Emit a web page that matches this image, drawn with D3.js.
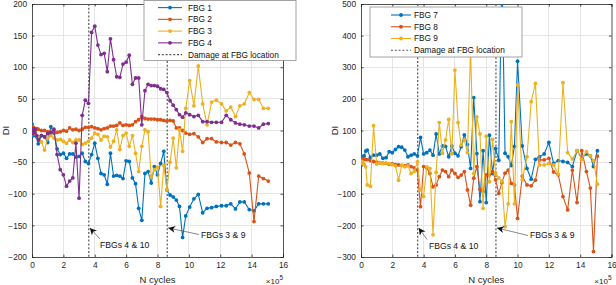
<!DOCTYPE html>
<html>
<head>
<meta charset="utf-8">
<script src="https://cdn.jsdelivr.net/npm/d3@7/dist/d3.min.js"></script>
<style>
  body { margin: 0; background: #fff; }
  svg { font-family: "Liberation Sans", Arial, sans-serif; }
</style>
</head>
<body>
<svg id="chart" width="616" height="285"></svg>
<script>
// N cycles (x 10^5), left panel sampling
const cyclesLeft = [0, 0.05, 0.1, 0.15, 0.2, 0.3,
  0.4, 0.6, 0.8, 1.0, 1.2, 1.4, 1.6, 1.8, 2.0, 2.2,
  2.4, 2.6, 2.8, 3.0, 3.2, 3.4, 3.6, 3.8, 4.0, 4.2,
  4.4, 4.6, 4.8, 5.0, 5.2, 5.4, 5.6, 5.8, 6.0, 6.2,
  6.4, 6.6, 6.8, 7.0, 7.2, 7.4, 7.6, 7.8, 8.0, 8.2,
  8.4, 8.6, 8.8, 9.0, 9.2, 9.4, 9.6, 9.8,
  10.05, 10.32, 10.6, 10.88, 11.16, 11.45, 11.75, 12.08, 12.38,
  12.67, 12.97, 13.25, 13.53, 13.85, 14.15, 14.45, 14.75, 15.06];

const fbg1 = [10, 2, -8, -3, -5, -10,
  -21, -8, -10, -19, 6, -4, -29, -38, -36, -44,
  -37, -37, -42, -41, -36, -49, -52, -38, -20, -44,
  -68, -70, -85, -36, -72, -71, -72, -76, -48, -49,
  -75, -84, -123, -142, -68, -65, -83, -57, -70, -52,
  -33, -94, -102, -105, -110, -120, -169, -135,
  -121, -108, -101, -130, -123, -122, -120, -119, -119,
  -116, -124, -113, -113, -125, -127, -116, -116, -116];

const fbg2 = [0, 3, 5, 2, 0, 3,
  2, 0, 0, -2, -3, -2, -3, -2, 0, -1,
  4, 1, 2, 0, 2, 5, 5, 6, 4, 3,
  1, 3, 4, 7, 7, 8, 12, 8, 9, 8,
  9, 14, 17, 22, 19, 18, 18, 18, 17, 17,
  16, 15, 16, 15, 4, 4, 0, -4,
  -6, -5, -10, -19, -13, -13, -18, -19, -19,
  -23, -19, -21, -37, -67, -144, -72, -76, -80];

const fbg3 = [0, -2, -5, 2, -3, -8,
  -10, -18, -31, -12, -8, -12, -15, -14, -17, -20,
  -15, -19, -15, -15, -22, -20, -17, -12, -4, -6,
  -15, -9, -10, -26, -17, 1, -30, -8, -4, -25,
  -8, -36, -65, -25, 1, -2, -73, -62, -58, -120,
  -55, -94, -50, -12, -59, 1, -33, 35,
  79, 39, 102, 42, 9, 45, 48, 42, 31,
  37, 22, 39, 42, 60, 49, 49, 35, 35];

const fbg4 = [0, -5, 3, -3, 2, -8,
  -15, -8, -10, -5, -3, 2, -38, -62, -70, -88,
  -80, -75, -20, -107, 24, 48, 43, 155, 165, 135,
  120, 122, 93, 145, 112, 85, 84, 105, 108, 119,
  73, 83, 83, 9, 63, 73, 71, 71, 70, 66,
  65, 60, 47, 40, 33, 25, 21, 28,
  25, 22, 24, 14, 14, 13, 13, 13, 24,
  17, 12, 10, 9, 7, 7, 4, 10, 11];

// right panel sampling
const cyclesRight = [0, 0.05, 0.1, 0.15, 0.2, 0.3,
  0.4, 0.6, 0.8, 1.0, 1.2, 1.4, 1.6, 1.8, 2.0, 2.2,
  2.4, 2.6, 2.8, 3.0, 3.2, 3.4, 3.6, 3.8, 4.0, 4.2,
  4.4, 4.6, 4.8, 5.0, 5.2, 5.4, 5.6, 5.8, 6.0, 6.2,
  6.4, 6.6, 6.8, 7.0, 7.2, 7.4, 7.6, 7.8, 8.0, 8.2,
  8.4, 8.6, 8.8, 9.0, 9.2, 9.4, 9.6, 9.8,
  10.0, 10.3, 10.6, 10.87, 11.14, 11.4, 11.7, 12.0, 12.3, 12.6,
  12.9, 13.2, 13.5, 13.8, 14.1, 14.4, 14.65, 14.85, 15.1];

const fbg7 = [-11, 8, 15, 18, 20, 35,
  38, 15, 22, 22, 26, 12, 14, 33, 30, 40,
  49, 47, 38, 17, 22, 26, 20, 78, 26, 30,
  38, 22, 89, 26, 51, 50, 17, 51, 28, 20,
  49, 86, 55, -20, 204, 27, -125, 36, -128, 85,
  -36, 43, 6, 620, 28, 17, -11, 50,
  319, 51, -20, -54, 9, 17, 26, 62, -4, 5,
  2, -1, -14, 36, 12, 26, 20, -14, 36];

const fbg8 = [0, 5, 10, 12, 10, 8,
  8, 5, 2, 0, -2, -3, -4, -7, -6, -8,
  -9, -10, -12, -9, -14, -18, -25, -141, -14, -18,
  -36, -78, -72, -46, -25, -30, -46, -25, -36, -48,
  -41, -30, -88, -136, -51, -14, -86, -93, -40, -41,
  -30, -56, -99, -65, -35, -25, -67, -72,
  -178, -44, -72, -75, -57, 7, 7, 12, -31, -40,
  -109, -151, -25, -128, 36, -30, -82, -283, 19];

const fbg9 = [-4, 2, 0, -5, -8, -15,
  -72, -76, 115, -6, -2, -5, -3, -5, -8, -12,
  -57, -10, -15, -12, -36, -30, 1, -88, -109, -15,
  -20, -230, -32, 125, 28, 70, 135, 26, 291, 125,
  54, 70, 30, 360, -36, 143, 89, -146, 82, -62,
  72, -36, -50, -60, -204, -132, 128, -132,
  244, -56, 17, 191, 249, -9, -9, -4, -9, -38,
  251, 30, 10, 36, 9, 33, 20, 5, -70];

const xTicks = [0, 2, 4, 6, 8, 10, 12, 14, 16];
const yTicksLeft = [-200, -150, -100, -50, 0, 50, 100, 150, 200];
const yTicksRight = [-300, -200, -100, 0, 100, 200, 300, 400, 500];
const damageCycles = [3.62, 8.62];
const damageLabels = ["FBGs 4 & 10", "FBGs 3 & 9"];

const colors = ["#0072BD", "#D95319", "#EDB120", "#7E2F8E"];
const gridColor = "#e6e6e6";
const axisColor = "#262626";

const svg = d3.select("#chart");

const defs = svg.append("defs");
defs.append("marker")
  .attr("id", "arrowhead")
  .attr("viewBox", "0 0 10 10")
  .attr("refX", 10).attr("refY", 5)
  .attr("markerWidth", 9).attr("markerHeight", 7)
  .attr("markerUnits", "userSpaceOnUse")
  .attr("orient", "auto")
  .append("path")
  .attr("d", "M0,0 L10,5 L0,10 L3,5 Z")
  .attr("fill", "#111");

const panels = [
  {
    id: "L", left: 32, right: 283, top: 4, bottom: 257,
    cycles: cyclesLeft, yDomain: [-200, 200], yTicks: yTicksLeft,
    series: [
      { name: "FBG 1", values: fbg1, color: colors[0] },
      { name: "FBG 2", values: fbg2, color: colors[1] },
      { name: "FBG 3", values: fbg3, color: colors[2] },
      { name: "FBG 4", values: fbg4, color: colors[3] }
    ],
    arrowY: -154,
    legend: { x: 144, y: 0.5, w: 152, h: 60, row0: 7.6, lineX0: 158, lineX1: 182, textX: 188 },
    labels: [
      { tail: [100, 239], text: [100, 248] },
      { tail: [199, 234.5], text: [201, 237.5] }
    ]
  },
  {
    id: "R", left: 361, right: 611.5, top: 4, bottom: 257,
    cycles: cyclesRight, yDomain: [-300, 500], yTicks: yTicksRight,
    series: [
      { name: "FBG 7", values: fbg7, color: colors[0] },
      { name: "FBG 8", values: fbg8, color: colors[1] },
      { name: "FBG 9", values: fbg9, color: colors[2] }
    ],
    arrowY: -208,
    legend: { x: 370, y: 7, w: 152, h: 50, row0: 15, lineX0: 391, lineX1: 411, textX: 414 },
    labels: [
      { tail: [427, 239.5], text: [429, 248.5] },
      { tail: [528, 235.5], text: [530, 237.5] }
    ]
  }
];

panels.forEach(p => {
  const x = d3.scaleLinear().domain([0, 16]).range([p.left, p.right]);
  const y = d3.scaleLinear().domain(p.yDomain).range([p.bottom, p.top]);
  const w = p.right - p.left, h = p.bottom - p.top;

  defs.append("clipPath").attr("id", "clip" + p.id)
    .append("rect").attr("x", p.left).attr("y", p.top).attr("width", w).attr("height", h);

  const g = svg.append("g");

  // grid
  g.append("g").selectAll("line").data(xTicks.slice(1, -1)).join("line")
    .attr("x1", d => x(d)).attr("x2", d => x(d))
    .attr("y1", p.top).attr("y2", p.bottom)
    .attr("stroke", gridColor).attr("stroke-width", 1).attr("shape-rendering", "crispEdges");
  g.append("g").selectAll("line").data(p.yTicks.slice(1, -1)).join("line")
    .attr("y1", d => y(d)).attr("y2", d => y(d))
    .attr("x1", p.left).attr("x2", p.right)
    .attr("stroke", gridColor).attr("stroke-width", 1).attr("shape-rendering", "crispEdges");

  // axes (inward ticks)
  const xAxis = g.append("g").attr("transform", `translate(0,${p.bottom})`)
    .call(d3.axisBottom(x).tickValues(xTicks).tickSize(-2.5).tickPadding(5.5));
  const xAxisTop = g.append("g").attr("transform", `translate(0,${p.top})`)
    .call(d3.axisTop(x).tickValues(xTicks).tickSize(-2.5).tickFormat(""));
  const yAxis = g.append("g").attr("transform", `translate(${p.left},0)`)
    .call(d3.axisLeft(y).tickValues(p.yTicks).tickSize(-2.5).tickPadding(5));
  const yAxisRight = g.append("g").attr("transform", `translate(${p.right},0)`)
    .call(d3.axisRight(y).tickValues(p.yTicks).tickSize(-2.5).tickFormat(""));
  [xAxis, xAxisTop, yAxis, yAxisRight].forEach(a => {
    a.select(".domain").attr("stroke", axisColor).attr("stroke-width", 0.8);
    a.selectAll(".tick line").attr("stroke", axisColor).attr("stroke-width", 0.8);
    a.selectAll("text").attr("fill", axisColor).attr("font-size", 8.3)
      .attr("font-family", "Liberation Sans, Arial, sans-serif");
  });

  // damage lines
  g.append("g").selectAll("line").data(damageCycles).join("line")
    .attr("x1", d => x(d)).attr("x2", d => x(d))
    .attr("y1", p.top).attr("y2", p.bottom)
    .attr("stroke", "#555").attr("stroke-width", 1.2).attr("stroke-dasharray", "2,1.8");

  // series
  const plot = g.append("g").attr("clip-path", `url(#clip${p.id})`);
  const line = d3.line().x(d => x(d[0])).y(d => y(d[1]));
  p.series.forEach(s => {
    const pts = p.cycles.map((c, i) => [c, s.values[i]]);
    plot.append("path").datum(pts)
      .attr("d", line).attr("fill", "none")
      .attr("stroke", s.color).attr("stroke-width", 1.1).attr("stroke-linejoin", "round");
    plot.append("g").selectAll("circle").data(pts).join("circle")
      .attr("cx", d => x(d[0])).attr("cy", d => y(d[1])).attr("r", 1.9)
      .attr("fill", s.color);
  });

  // annotations
  p.labels.forEach((lab, i) => {
    g.append("line")
      .attr("x1", lab.tail[0]).attr("y1", lab.tail[1])
      .attr("x2", x(damageCycles[i]) + 1).attr("y2", y(p.arrowY))
      .attr("stroke", "#555").attr("stroke-width", 0.7)
      .attr("marker-end", "url(#arrowhead)");
    g.append("text").attr("x", lab.text[0]).attr("y", lab.text[1])
      .attr("font-size", 8.6).attr("fill", "#111").text(damageLabels[i]);
  });

  // axis labels
  g.append("text").attr("x", (p.left + p.right) / 2).attr("y", 282.5)
    .attr("text-anchor", "middle").attr("font-size", 9.5).attr("fill", axisColor).text("N cycles");
  g.append("text")
    .attr("transform", `translate(${p.left - 23.5},${(p.top + p.bottom) / 2}) rotate(-90)`)
    .attr("text-anchor", "middle").attr("font-size", 9.5).attr("fill", axisColor).text("DI");
  const mult = g.append("text").attr("x", p.right).attr("y", 283.5)
    .attr("text-anchor", "end").attr("font-size", 8).attr("fill", axisColor);
  mult.append("tspan").text("×10");
  mult.append("tspan").attr("dy", -4).attr("font-size", 6.5).text("5");

  // legend
  const L = p.legend;
  const lg = g.append("g");
  lg.append("rect").attr("x", L.x).attr("y", L.y).attr("width", L.w).attr("height", L.h)
    .attr("fill", "#fff").attr("stroke", "#9a9a9a").attr("stroke-width", 0.9);
  const entries = p.series.map(s => ({ name: s.name, color: s.color, dashed: false }))
    .concat([{ name: "Damage at FBG location", color: "#555", dashed: true }]);
  entries.forEach((e, i) => {
    const yy = L.row0 + i * 11.75;
    lg.append("line").attr("x1", L.lineX0).attr("x2", L.lineX1).attr("y1", yy).attr("y2", yy)
      .attr("stroke", e.color).attr("stroke-width", e.dashed ? 1.2 : 1.1)
      .attr("stroke-dasharray", e.dashed ? "2,1.8" : null);
    if (!e.dashed) {
      lg.append("circle").attr("cx", (L.lineX0 + L.lineX1) / 2).attr("cy", yy).attr("r", 1.9)
        .attr("fill", e.color);
    }
    lg.append("text").attr("x", L.textX).attr("y", yy).attr("dy", "0.35em")
      .attr("font-size", 8.3).attr("fill", "#111").text(e.name);
  });
});
</script>
</body>
</html>
